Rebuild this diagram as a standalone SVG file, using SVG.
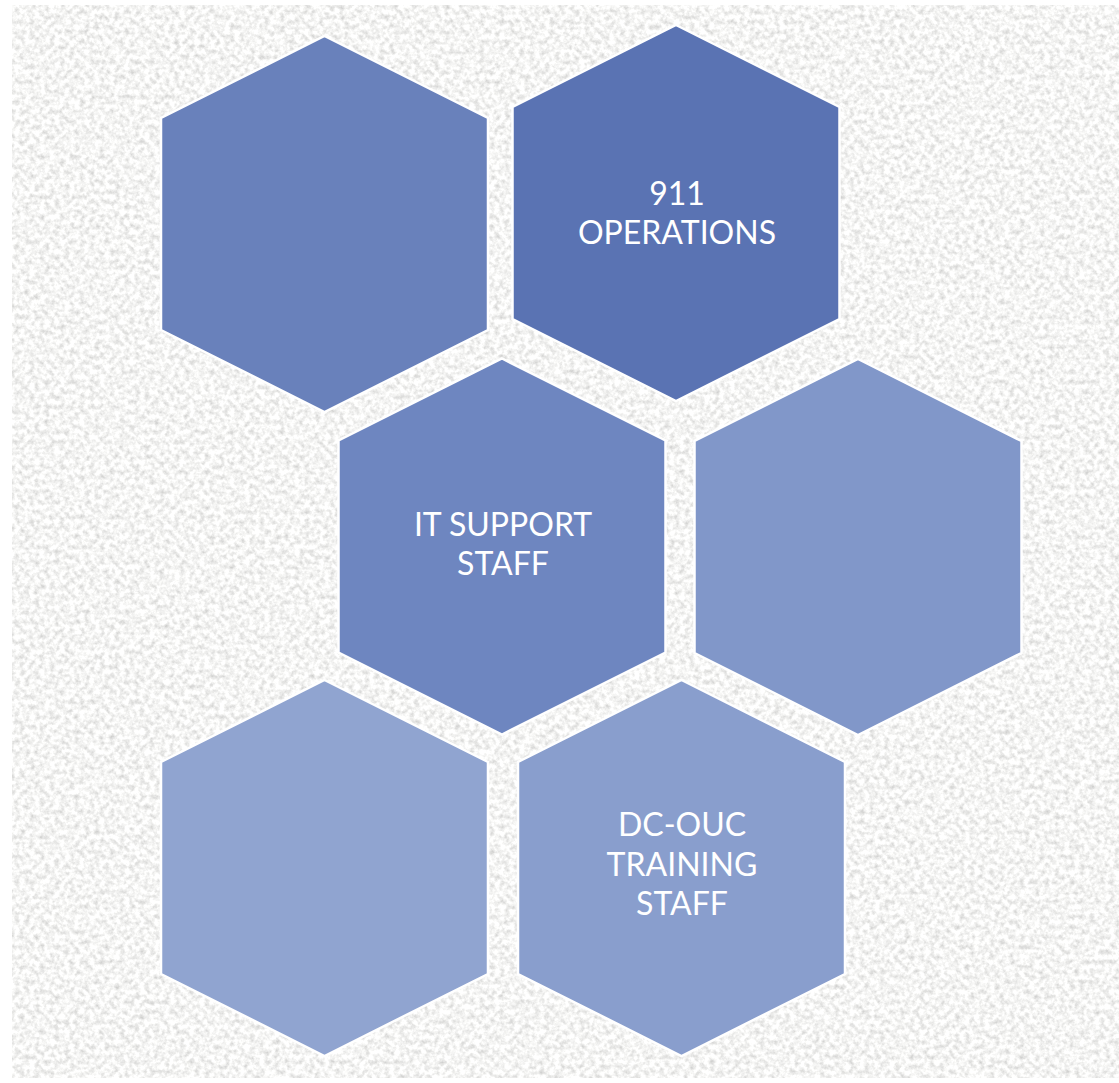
<svg xmlns="http://www.w3.org/2000/svg" xmlns:xlink="http://www.w3.org/1999/xlink" width="1119" height="1083" viewBox="0 0 1119 1083">
  <defs>
    <!-- granite-like paper grain for the backdrop -->
    <filter id="grain" x="0" y="0" width="100%" height="100%" color-interpolation-filters="sRGB">
      <feTurbulence type="fractalNoise" baseFrequency="0.2" numOctaves="3" seed="7" result="n"/>
      <feColorMatrix in="n" type="matrix" values="0.34 0 0 0 0.79  0.34 0 0 0 0.79  0.34 0 0 0 0.785  0 0 0 0 1"/>
    </filter>
    <polygon id="hex" points="0,-188 163.5,-106 163.5,106 0,188 -163.5,106 -163.5,-106"/>
    <style>
      .cell { stroke: #ffffff; stroke-width: 2.5; stroke-linejoin: miter; }
      .label { font-family: Lato, "Open Sans", "Liberation Sans", sans-serif; font-size: 32px; fill: #ffffff; text-anchor: middle; }
    </style>
  </defs>

  <rect x="0" y="0" width="1119" height="1083" fill="#ffffff"/>
  <rect x="12" y="5" width="1107" height="1073" filter="url(#grain)"/>

  <g id="hex-top-left">
    <use xlink:href="#hex" class="cell" fill="#6981bb" transform="translate(324.5,224)"/>
  </g>

  <g id="hex-911-operations">
    <use xlink:href="#hex" class="cell" fill="#5a73b3" transform="translate(676,213)"/>
    <text class="label" x="677" y="205">911</text>
    <text class="label" x="677" y="244">OPERATIONS</text>
  </g>

  <g id="hex-it-support">
    <use xlink:href="#hex" class="cell" fill="#6e86c0" transform="translate(502,546.5)"/>
    <text class="label" x="503" y="536">IT SUPPORT</text>
    <text class="label" x="503" y="575">STAFF</text>
  </g>

  <g id="hex-middle-right">
    <use xlink:href="#hex" class="cell" fill="#8197c9" transform="translate(858,547)"/>
  </g>

  <g id="hex-bottom-left">
    <use xlink:href="#hex" class="cell" fill="#90a4d0" transform="translate(324.5,868)"/>
  </g>

  <g id="hex-dc-ouc-training">
    <use xlink:href="#hex" class="cell" fill="#899ecd" transform="translate(681.5,868)"/>
    <text class="label" x="682" y="836">DC-OUC</text>
    <text class="label" x="682" y="876">TRAINING</text>
    <text class="label" x="682" y="915">STAFF</text>
  </g>
</svg>
